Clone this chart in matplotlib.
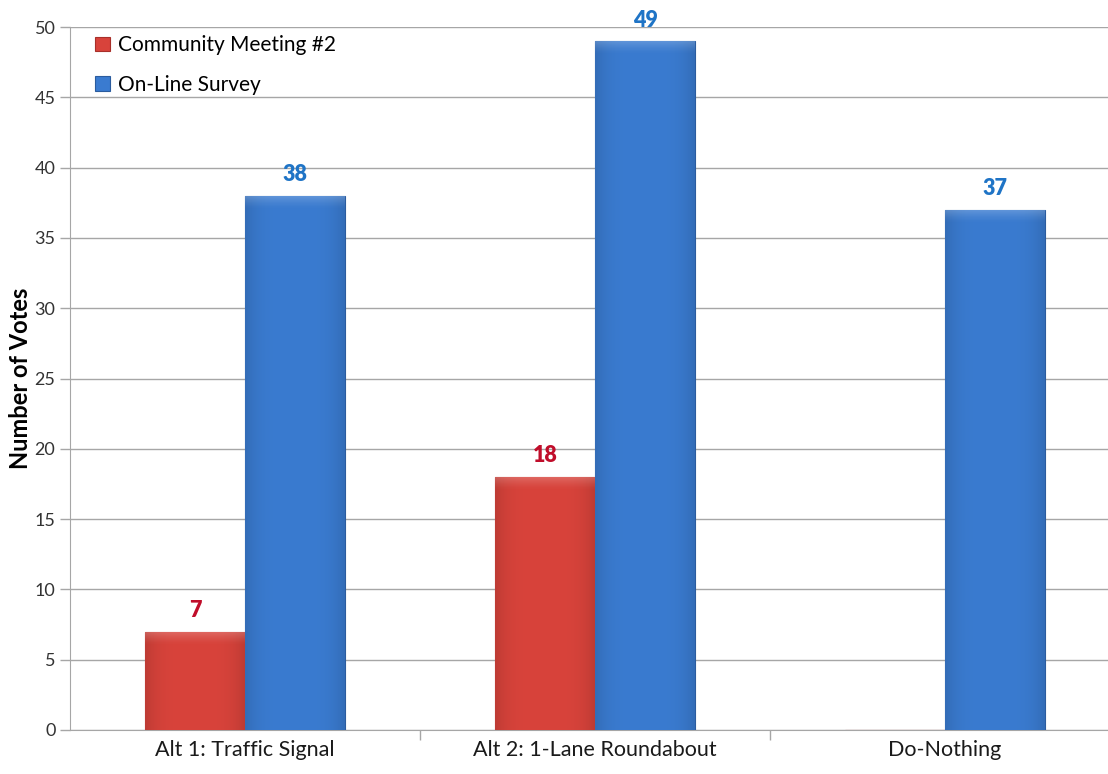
"""Vote tally chart: community meeting vs on-line survey."""

import matplotlib.pyplot as plt
import numpy as np
from matplotlib.colors import to_rgb

plt.rcParams["font.family"] = ["Lato", "DejaVu Sans"]

categories = ["Alt 1: Traffic Signal", "Alt 2: 1-Lane Roundabout", "Do-Nothing"]
meeting_votes = [7, 18, 0]
survey_votes = [38, 49, 37]
series_names = ["Community Meeting #2", "On-Line Survey"]

RED = "#d8433b"
BLUE = "#3a7bd0"
RED_TEXT = "#c00d2a"
BLUE_TEXT = "#1f74c6"
GRID = "#a6a6a6"


def shade_bar(ax, patch, base):
    """Overlay a soft bevel gradient clipped to the bar."""
    x0, y0 = patch.get_x(), patch.get_y()
    w, h = patch.get_width(), patch.get_height()
    if h <= 0:
        return
    r, g, b = to_rgb(base)
    t = np.linspace(0, 1, 64)
    # darker towards the left/right edges, slightly lighter in the middle
    edge = 1 - 0.12 * (np.abs(t - 0.5) * 2) ** 4
    img = np.zeros((1, 64, 3))
    img[0, :, 0] = np.clip(r * edge, 0, 1)
    img[0, :, 1] = np.clip(g * edge, 0, 1)
    img[0, :, 2] = np.clip(b * edge, 0, 1)
    im = ax.imshow(img, extent=(x0, x0 + w, y0, y0 + h), aspect="auto",
                   zorder=patch.get_zorder() + 0.1, interpolation="bicubic")
    im.set_clip_path(patch)
    # faint highlight fading down from the top edge
    fade = np.zeros((32, 1, 4))
    fade[..., :3] = 1.0
    fade[:, 0, 3] = np.linspace(0.22, 0.0, 32) ** 1.5 / 0.22 ** 0.5
    top = ax.imshow(fade, extent=(x0, x0 + w, y0 + h - 1.0, y0 + h),
                    aspect="auto", origin="upper",
                    zorder=patch.get_zorder() + 0.2, interpolation="bilinear")
    top.set_clip_path(patch)


fig = plt.figure(figsize=(11.08, 7.74), dpi=100)
ax = fig.add_axes([70 / 1108, 44 / 774, 1050 / 1108, 703 / 774])

x = np.arange(len(categories))
width = 100 / 350
red_bars = ax.bar(x - width / 2, meeting_votes, width, color=RED,
                  edgecolor="#a8302a", linewidth=0.8, zorder=3,
                  label=series_names[0])
blue_bars = ax.bar(x + width / 2, survey_votes, width, color=BLUE,
                   edgecolor="#2b5c9e", linewidth=0.8, zorder=3,
                   label=series_names[1])

for p in red_bars:
    shade_bar(ax, p, RED)
for p in blue_bars:
    shade_bar(ax, p, BLUE)

for p, v in zip(red_bars, meeting_votes):
    if v > 0:
        ax.text(p.get_x() + p.get_width() / 2, v + 0.75, str(v), ha="center",
                va="bottom", color=RED_TEXT, fontsize=15.5, fontweight="heavy")
for p, v in zip(blue_bars, survey_votes):
    ax.text(p.get_x() + p.get_width() / 2, v + 0.75, str(v), ha="center",
            va="bottom", color=BLUE_TEXT, fontsize=15.5, fontweight="heavy")

ax.set_xlim(-0.5, len(categories) - 0.5)
ax.set_ylim(0, 50)
ax.set_yticks(np.arange(0, 51, 5))
ax.set_xticks(x)
ax.set_xticklabels(categories, fontsize=15.5)
ax.set_xticks(x[:-1] + 0.5, minor=True)
ax.tick_params(axis="x", which="major", length=0, pad=7, colors="#1a1a1a")
ax.tick_params(axis="x", which="minor", length=7, color=GRID, width=1)
ax.tick_params(axis="y", length=7, width=1, labelsize=13,
               color=GRID, labelcolor="#333333")

ax.yaxis.grid(True, color=GRID, linewidth=1)
ax.set_axisbelow(True)
for side in ("top", "right"):
    ax.spines[side].set_visible(False)
ax.spines["left"].set_color(GRID)
ax.spines["bottom"].set_color(GRID)

ax.set_ylabel("Number of Votes", fontsize=17, fontweight="bold", labelpad=2)

ax.legend(loc="upper left", bbox_to_anchor=(0.006, 1.015), frameon=False,
          fontsize=15, handlelength=0.7, handleheight=0.7,
          handletextpad=0.4, labelspacing=0.95)

fig.savefig("out.png", dpi=100)
plt.close(fig)
